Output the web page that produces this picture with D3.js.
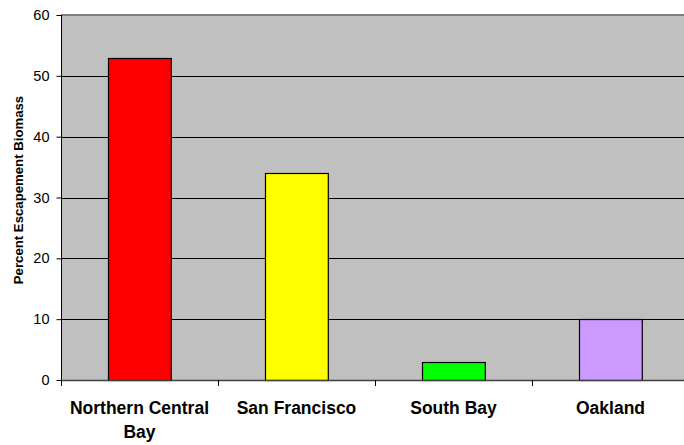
<!DOCTYPE html>
<html>
<head>
<meta charset="utf-8">
<script src="https://cdn.jsdelivr.net/npm/d3@7"></script>
<style>
  html, body { margin: 0; padding: 0; background: #fff; overflow: hidden; }
  svg { display: block; font-family: "Liberation Sans", Arial, sans-serif; }
</style>
</head>
<body>
<svg id="chart" width="684" height="445"></svg>
<script>
// Share of escapement biomass by region
const categories = [["Northern Central", "Bay"], ["San Francisco"], ["South Bay"], ["Oakland"]];
const values = [53, 34, 3, 10];
const colors = ["#FF0000", "#FFFF00", "#00FF00", "#CC99FF"];
const yTicks = [0, 10, 20, 30, 40, 50, 60];
const yTitle = "Percent Escapement Biomass";

const svg = d3.select("#chart");
const plotLeft = 61, plotRight = 689, plotTop = 15, plotBottom = 380;

const x = d3.scaleBand()
  .domain(d3.range(categories.length))
  .range([plotLeft, plotRight])
  .paddingInner(0.6)
  .paddingOuter(0.3);

const y = d3.scaleLinear().domain([0, 60]).range([plotBottom, plotTop]);

// plot background
svg.append("rect")
  .attr("x", plotLeft).attr("y", plotTop)
  .attr("width", plotRight - plotLeft).attr("height", plotBottom - plotTop)
  .attr("fill", "#C0C0C0");

// horizontal gridlines
svg.append("g")
  .selectAll("line")
  .data(yTicks.filter(d => d > 0 && d < 60))
  .join("line")
  .attr("x1", plotLeft).attr("x2", plotRight)
  .attr("y1", d => Math.round(y(d)) + 0.5).attr("y2", d => Math.round(y(d)) + 0.5)
  .attr("stroke", "#000").attr("stroke-width", 1);

// top border of plot
svg.append("line")
  .attr("x1", plotLeft).attr("x2", plotRight)
  .attr("y1", plotTop).attr("y2", plotTop)
  .attr("stroke", "#808080").attr("stroke-width", 2);

// bars
svg.append("g")
  .selectAll("rect")
  .data(values)
  .join("rect")
  .attr("x", (d, i) => Math.round(x(i)) + 0.5)
  .attr("y", d => Math.round(y(d)) + 0.5)
  .attr("width", x.bandwidth())
  .attr("height", d => y(0) - Math.round(y(d)))
  .attr("fill", (d, i) => colors[i])
  .attr("stroke", "#000").attr("stroke-width", 1.2);

// y axis
const yAxis = d3.axisLeft(y).tickValues(yTicks).tickSize(5).tickPadding(7).tickFormat(d3.format("d"));
const gy = svg.append("g").attr("transform", `translate(${plotLeft + 0.5},0)`).call(yAxis);
gy.select(".domain").attr("stroke", "#000").attr("d", `M0,${plotTop}V${plotBottom}`);
gy.selectAll(".tick line").attr("stroke", "#000");
gy.selectAll(".tick text")
  .attr("font-size", 14.5).attr("fill", "#000")
  .attr("font-family", "'Liberation Sans', Arial, sans-serif");

// x axis baseline and category separators
svg.append("line")
  .attr("x1", plotLeft).attr("x2", plotRight)
  .attr("y1", plotBottom + 0.5).attr("y2", plotBottom + 0.5)
  .attr("stroke", "#404040").attr("stroke-width", 1.5);

const boundaries = d3.range(categories.length + 1).map(i => plotLeft + i * x.step());
svg.append("g")
  .selectAll("line")
  .data(boundaries)
  .join("line")
  .attr("x1", d => Math.round(d) + 0.5).attr("x2", d => Math.round(d) + 0.5)
  .attr("y1", plotBottom).attr("y2", plotBottom + 6)
  .attr("stroke", "#000");

// category labels
const labels = svg.append("g")
  .selectAll("text")
  .data(categories)
  .join("text")
  .attr("x", (d, i) => x(i) + x.bandwidth() / 2)
  .attr("y", 414)
  .attr("text-anchor", "middle")
  .attr("font-size", 17.5).attr("font-weight", "bold").attr("fill", "#000");
labels.selectAll("tspan")
  .data(d => d)
  .join("tspan")
  .attr("x", function () { return this.parentNode.getAttribute("x"); })
  .attr("dy", (d, i) => i === 0 ? 0 : 24)
  .text(d => d);

// y axis title
svg.append("text")
  .attr("transform", `translate(23,190) rotate(-90)`)
  .attr("text-anchor", "middle")
  .attr("font-size", 13.2).attr("font-weight", "bold").attr("fill", "#000")
  .text(yTitle);
</script>
</body>
</html>
